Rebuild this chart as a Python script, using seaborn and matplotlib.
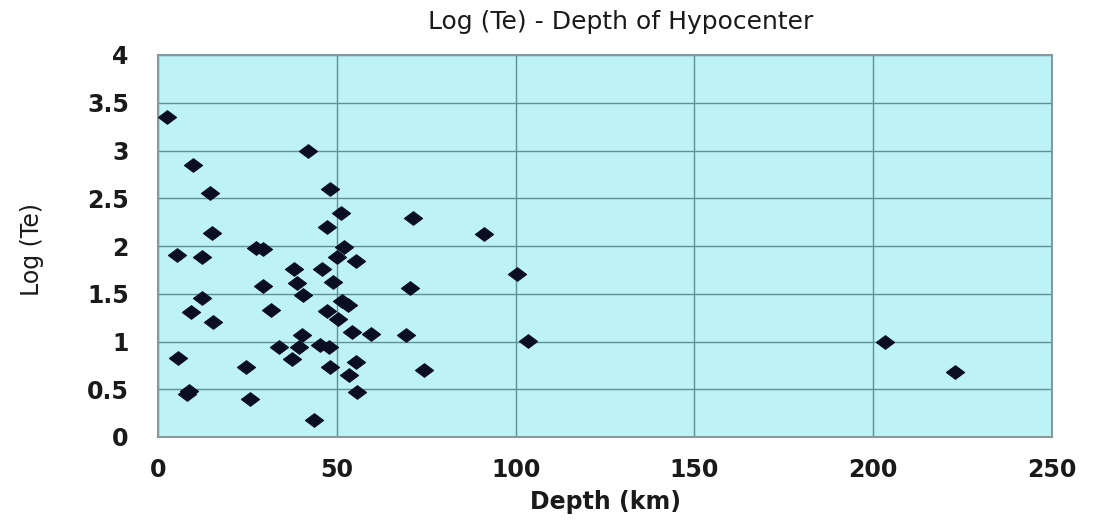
import matplotlib
matplotlib.use("Agg")
import matplotlib.pyplot as plt
import seaborn as sns
import pandas as pd
from matplotlib.path import Path

depth = [2.5, 9.8, 14.6, 15.1, 5.2, 12.2, 27.5, 29.5, 12.4, 9.3, 15.5, 29.4, 31.5,
         5.6, 8.6, 8.0, 24.6, 25.6,
         41.9, 48.0, 51.3, 47.2, 52.0, 50.0, 55.4, 38.0, 46.0, 39.0, 48.9, 40.5,
         51.5, 53.1, 47.3, 50.4, 40.3, 54.3, 59.5, 33.7, 39.5, 37.6, 45.3, 47.8,
         48.0, 55.4, 53.4, 55.6, 43.6,
         71.2, 91.2, 70.4, 69.4, 74.4, 100.4, 103.5, 203.3, 222.8]
log_te = [3.35, 2.85, 2.56, 2.14, 1.91, 1.89, 1.98, 1.97, 1.46, 1.31, 1.20, 1.58, 1.33,
          0.83, 0.48, 0.45, 0.73, 0.40,
          3.00, 2.60, 2.35, 2.20, 1.99, 1.88, 1.84, 1.76, 1.76, 1.61, 1.62, 1.49,
          1.42, 1.38, 1.32, 1.24, 1.07, 1.10, 1.08, 0.94, 0.94, 0.82, 0.96, 0.94,
          0.73, 0.79, 0.65, 0.47, 0.18,
          2.29, 2.13, 1.56, 1.07, 0.70, 1.71, 1.01, 1.00, 0.68]

x_ticks = [0, 50, 100, 150, 200, 250]
y_ticks = [0, 0.5, 1, 1.5, 2, 2.5, 3, 3.5, 4]
y_tick_labels = ["0", "0.5", "1", "1.5", "2", "2.5", "3", "3.5", "4"]

df = pd.DataFrame({"Depth": depth, "LogTe": log_te})

sns.set_theme(style="white")
plt.rcParams["font.family"] = ["DejaVu Sans"]

fig = plt.figure(figsize=(10.93, 5.24), dpi=100)
ax = fig.add_axes([158 / 1093, 1 - 437 / 524, (1052 - 158) / 1093, (437 - 55) / 524])
ax.set_facecolor("#bdf2f6")

diamond = Path([(-1, 0), (0, 0.75), (1, 0), (0, -0.75), (-1, 0)],
               [Path.MOVETO, Path.LINETO, Path.LINETO, Path.LINETO, Path.CLOSEPOLY])

sns.scatterplot(data=df, x="Depth", y="LogTe", ax=ax, marker=diamond, s=170,
                color="#0b0d22", edgecolor="#0b0d22", linewidth=0.8, zorder=3)

ax.set_xlim(0, 250)
ax.set_ylim(0, 4)
ax.set_xticks(x_ticks)
ax.set_yticks(y_ticks)
ax.set_yticklabels(y_tick_labels)
ax.grid(True, color="#5f9096", linewidth=1.0)
ax.set_axisbelow(True)
for s in ax.spines.values():
    s.set_color("#8a9a9c")
    s.set_linewidth(1.5)
ax.tick_params(axis="both", length=0, labelsize=17, colors="#1a1a1a")
ax.tick_params(axis="x", pad=15)
ax.tick_params(axis="y", pad=21)
for lab in ax.get_xticklabels() + ax.get_yticklabels():
    lab.set_fontweight("bold")

ax.set_xlabel("Depth (km)", fontsize=17, fontweight="bold", color="#1a1a1a", labelpad=6)
ax.set_ylabel("Log (Te)", fontsize=17, color="#1a1a1a")
ax.yaxis.set_label_coords(-0.128, 0.49)
fig.text(621 / 1093, 1 - 22 / 524, "Log (Te) - Depth of Hypocenter", ha="center",
         va="center", fontsize=18, color="#1a1a1a")

fig.savefig("out.png", dpi=100, facecolor="white")
